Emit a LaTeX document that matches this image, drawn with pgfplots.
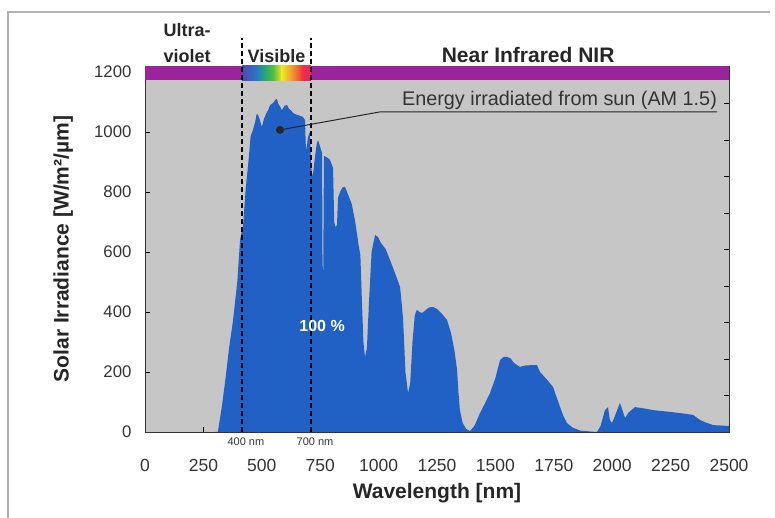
\documentclass[border=0pt]{standalone}
\usepackage{pgfplots}
\pgfplotsset{compat=1.18}
\usepackage{fontspec}
\setmainfont{Liberation Sans}
\definecolor{bggray}{HTML}{C6C6C6}
\definecolor{specblue}{HTML}{2160C4}
\definecolor{barpurple}{HTML}{9B239B}
\definecolor{ticktext}{HTML}{333333}
\definecolor{rA}{HTML}{5048B0}
\definecolor{rB}{HTML}{2878C8}
\definecolor{rC}{HTML}{20A080}
\definecolor{rD}{HTML}{50C040}
\definecolor{rE}{HTML}{F0E820}
\definecolor{rF}{HTML}{F09030}
\definecolor{rG}{HTML}{F03040}
\definecolor{rH}{HTML}{E82070}
\pgfplotstableread{
x y
300 0
312 0
330 90
345 180
360 280
377 373
395 500
407 640
420 690
430 800
445 920
452 985
462 1007
472 1035
478 1060
484 1057
492 1040
500 1017
510 1045
518 1060
527 1073
536 1090
545 1095
552 1100
557 1107
565 1110
570 1095
578 1085
586 1073
592 1080
598 1088
608 1090
614 1080
620 1075
628 1070
634 1063
648 1058
660 1055
676 1050
685 1040
688 960
692 940
697 980
705 1000
712 880
718 850
725 900
735 960
741 973
750 950
758 930
760 560
763 530
766 920
780 915
792 907
805 880
810 700
815 683
822 690
826 780
835 800
845 815
856 817
870 790
885 760
900 700
915 620
922 590
928 450
935 300
942 250
950 280
958 420
970 600
985 657
997 650
1010 630
1030 610
1049 573
1070 530
1092 483
1100 420
1105 373
1115 200
1126 130
1135 160
1145 300
1155 390
1164 407
1175 400
1186 397
1200 405
1215 415
1233 417
1250 410
1270 395
1293 373
1310 330
1325 270
1336 207
1342 130
1348 73
1360 30
1375 10
1391 3
1410 20
1434 63
1455 95
1477 130
1500 180
1520 240
1535 250
1550 250
1565 245
1580 230
1605 217
1630 222
1661 223
1678 223
1691 200
1720 175
1747 150
1760 120
1777 83
1790 55
1806 30
1830 15
1862 5
1900 2
1935 0
1950 20
1969 73
1982 83
1990 40
1999 30
2010 50
2033 97
2045 70
2055 47
2070 65
2098 83
2140 78
2175 73
2247 67
2300 62
2346 57
2376 40
2400 32
2432 23
2500 20
}\spectrum
\begin{document}
\begin{tikzpicture}
\useasboundingbox (-145pt,-86pt) rectangle (630pt,432pt);
\draw[black!30, line width=1.2pt] (-137pt,-100pt) -- (-137pt,420pt) -- (625pt,420pt);
\begin{axis}[
  width=584pt, height=366pt, scale only axis,
  xmin=0, xmax=2500, ymin=0, ymax=1220,
  axis background/.style={fill=bggray},
  xtick={0,250,...,2500}, ytick={0,200,...,1200},
  xtick pos=bottom, ytick pos=left,
  tick align=inside, major tick length=5pt,
  tick style={black, line width=0.6pt},
  axis line style={black!80, line width=0.8pt},
  /pgf/number format/assume math mode=true,
  /pgf/number format/1000 sep={},
  xticklabel style={font=\fontsize{17.5}{17.5}\selectfont, text=ticktext, yshift=-24pt},
  yticklabel style={font=\fontsize{16.8}{16.8}\selectfont, text=ticktext, xshift=-10pt},
  xlabel={Wavelength [nm]},
  ylabel={Solar Irradiance [W/m²/µm]},
  xlabel style={font=\bfseries\fontsize{21}{21}\selectfont, text=black!85, at={(axis description cs:0.5,-0.167)}, anchor=center},
  ylabel style={font=\bfseries\fontsize{21}{21}\selectfont, text=black!85, at={(axis description cs:-0.140,0.5)}, anchor=center},
  clip=false,
]
\addplot[fill=specblue, draw=none] table[x=x, y=y] {\spectrum} \closedcycle;
\fill[barpurple] (axis cs:0,1173) rectangle (axis cs:2500,1220);
\shade[left color=rA, right color=rB] (axis cs:415,1173) rectangle (axis cs:480,1220);
\shade[left color=rB, right color=rC] (axis cs:479,1173) rectangle (axis cs:505,1220);
\shade[left color=rC, right color=rD] (axis cs:504,1173) rectangle (axis cs:550,1220);
\shade[left color=rD, right color=rE] (axis cs:549,1173) rectangle (axis cs:586,1220);
\shade[left color=rE, right color=rF] (axis cs:585,1173) rectangle (axis cs:634,1220);
\shade[left color=rF, right color=rG] (axis cs:633,1173) rectangle (axis cs:676,1220);
\shade[left color=rG, right color=rH] (axis cs:675,1173) rectangle (axis cs:710,1220);
\draw[black, line width=1.5pt, dash pattern=on 5pt off 3pt] (axis cs:415,0) -- (axis cs:415,1313);
\draw[black, line width=1.5pt, dash pattern=on 5pt off 3pt] (axis cs:710,0) -- (axis cs:710,1313);
\fill[black!85] (axis cs:578,1007) circle (4pt);
\draw[black!85, line width=1pt] (axis cs:578,1007) -- (axis cs:1006,1067) -- (axis cs:2449,1067);
\node[anchor=base east, inner sep=0pt, font=\fontsize{19.8}{19.8}\selectfont, text=black!80] at (axis cs:2449,1088) {Energy irradiated from sun (AM 1.5)};
\node[text=white, font=\bfseries\fontsize{16}{16}\selectfont] at (axis cs:758,353) {100 \%};
\node[anchor=base, inner sep=0pt, font=\bfseries\fontsize{18}{18}\selectfont, text=black!85] at (axis cs:180,1317) {Ultra-};
\node[anchor=base, inner sep=0pt, font=\bfseries\fontsize{18}{18}\selectfont, text=black!85] at (axis cs:180,1233) {violet};
\node[anchor=base, inner sep=0pt, font=\bfseries\fontsize{18}{18}\selectfont, text=black!85] at (axis cs:563,1233) {Visible};
\node[anchor=base, inner sep=0pt, font=\bfseries\fontsize{21}{21}\selectfont, text=black!85] at (axis cs:1640,1233) {Near Infrared NIR};
\node[font=\fontsize{11}{11}\selectfont, text=ticktext] at (axis cs:432,-33) {400 nm};
\node[font=\fontsize{11}{11}\selectfont, text=ticktext] at (axis cs:728,-33) {700 nm};
\end{axis}
\begin{axis}[
  width=584pt, height=366pt, scale only axis,
  xmin=0, xmax=2500, ymin=0, ymax=10.025,
  hide x axis, axis y line*=right,
  ytick={1,...,9}, yticklabels={},
  tick align=inside, major tick length=5pt,
  tick style={black, line width=0.6pt},
  axis line style={black!80, line width=0.8pt},
]
\end{axis}
\end{tikzpicture}
\end{document}
